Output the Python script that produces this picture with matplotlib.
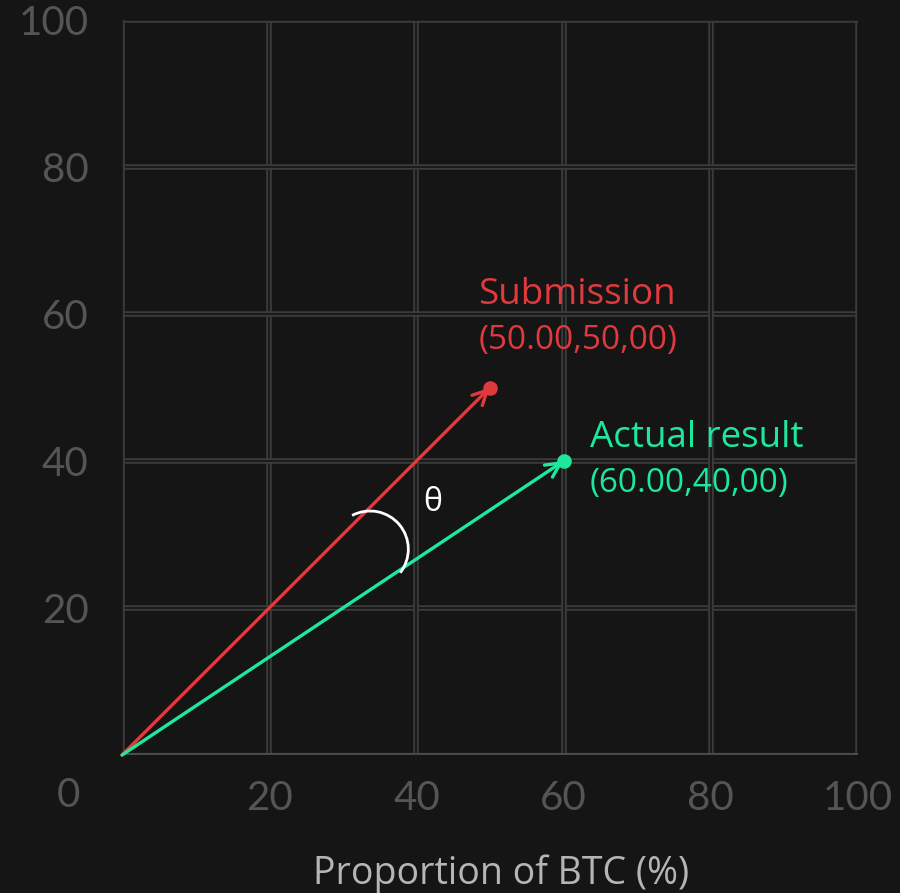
import numpy as np
import matplotlib.pyplot as plt
import matplotlib.patheffects as pe
from matplotlib.patches import Arc

# ── Data ───────────────────────────────────────────────────────────────────────
names = ['Submission', 'Actual result']
btc_pct = [50.0, 60.0]
other_pct = [50.0, 40.0]
coord_labels = ['(50.00,50,00)', '(60.00,40,00)']
colors = ['#e0393e', '#1de89b']
ticks = [20, 40, 60, 80, 100]

BG = '#151515'
GRID = '#3b3b3b'
LABEL_FONT = ['Open Sans', 'DejaVu Sans']

plt.rcParams['font.family'] = ['Lato', 'DejaVu Sans']

fig = plt.figure(figsize=(9, 8.93), dpi=100)
fig.patch.set_facecolor(BG)
ax = fig.add_axes([0.1356, 0.1545, 0.8177, 0.8231])
ax.set_facecolor(BG)
ax.set_xlim(0, 100)
ax.set_ylim(0, 100)

# ── Grid (double-line look) ────────────────────────────────────────────────────
grid_fx = [pe.Stroke(linewidth=4.0, foreground=GRID), pe.Normal()]
for t in ticks:
    ax.axvline(t, color=BG, linewidth=1.2, zorder=1, path_effects=grid_fx)
    ax.axhline(t, color=BG, linewidth=1.2, zorder=1, path_effects=grid_fx)
for side in ['left', 'bottom', 'top', 'right']:
    ax.spines[side].set_visible(False)
ax.axvline(0, color=BG, linewidth=1.2, zorder=1, path_effects=grid_fx)
ax.axhline(0, color='#4a4a4a', linewidth=3.0, zorder=1)

# ── Vectors ────────────────────────────────────────────────────────────────────
for i in range(len(names)):
    x, y = btc_pct[i], other_pct[i]
    ax.annotate('', xy=(x, y), xytext=(0, 0),
                arrowprops=dict(arrowstyle='->', color=colors[i], lw=2.4,
                                mutation_scale=26, shrinkA=0, shrinkB=0),
                zorder=3)
    ax.scatter([x], [y], s=110, color=colors[i], zorder=4, linewidths=0)

ax.text(btc_pct[0] - 1.6, other_pct[0] + 12.6, names[0], color=colors[0],
        fontsize=26.5, ha='left', va='center', family=LABEL_FONT)
ax.text(btc_pct[0] - 1.6, other_pct[0] + 6.4, coord_labels[0], color=colors[0],
        fontsize=24, ha='left', va='center', family=LABEL_FONT)
ax.text(btc_pct[1] + 3.6, other_pct[1] + 3.1, names[1], color=colors[1],
        fontsize=26.5, ha='left', va='center', family=LABEL_FONT)
ax.text(btc_pct[1] + 3.6, other_pct[1] - 3.0, coord_labels[1], color=colors[1],
        fontsize=24, ha='left', va='center', family=LABEL_FONT)

# ── Angle marker ───────────────────────────────────────────────────────────────
ax.add_patch(Arc((33.7, 28.0), 10.4, 10.4, theta1=-38, theta2=118,
                 color='white', lw=2.0, zorder=5))
ax.text(42.2, 34.4, 'θ', color='white', fontsize=23, ha='center', va='center',
        family=LABEL_FONT)

# ── Ticks & labels ─────────────────────────────────────────────────────────────
ax.set_xticks(ticks)
ax.set_yticks(ticks)
ax.tick_params(axis='both', length=0, labelsize=29, labelcolor='#555555')
ax.tick_params(axis='x', pad=18)
ax.tick_params(axis='y', pad=24)
ax.text(-7.3, -5.5, '0', color='#555555', fontsize=29, ha='center', va='center')
ax.set_xlabel('Proportion of BTC (%)', fontsize=27, color='#b5b5b5',
              family=LABEL_FONT)
ax.xaxis.set_label_coords(0.515, -0.135)

fig.savefig('out.png', dpi=100, facecolor=BG)
